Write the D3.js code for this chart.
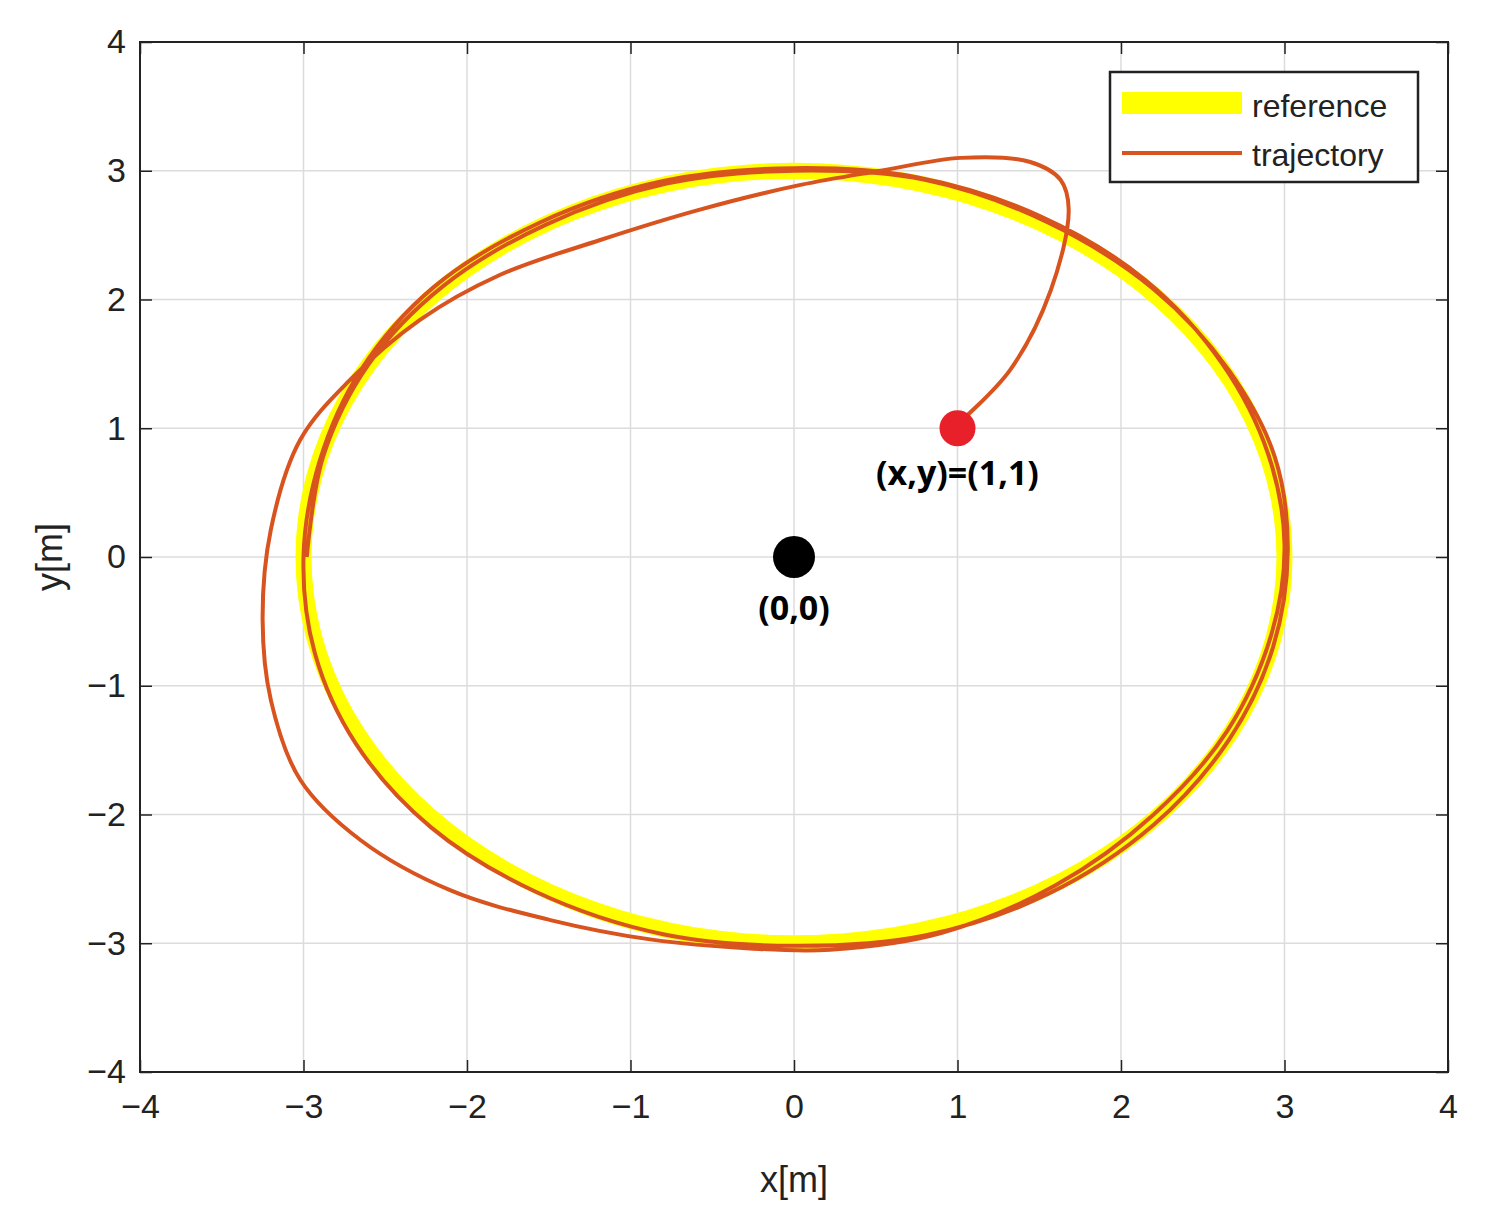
<!DOCTYPE html>
<html><head><meta charset="utf-8">
<script src="https://cdn.jsdelivr.net/npm/d3@7"></script>
<style>body{margin:0;background:#fff}</style></head>
<body><svg id="c" width="1487" height="1230"></svg>
<script>
const xTicks=[-4,-3,-2,-1,0,1,2,3,4];
const yTicks=[-4,-3,-2,-1,0,1,2,3,4];
const refRadius=3;
const refAngles=d3.range(0,361,3);
const trajX=[0.99,1.32,1.57,1.68,1.63,1.44,1.02,0.53,0.04,-0.57,-1.19,-1.80,-2.29,-2.72,-3.02,-3.20,-3.25,-3.20,-3.02,-2.65,-2.10,-1.49,-0.88,-0.27,0.22,0.9,1.6,2.2,2.65,2.92,3.0,2.9,2.62,2.15,1.5,0.75,0,-0.8,-1.55,-2.2,-2.65,-2.9,-3.0,-2.93,-2.68,-2.22,-1.58,-0.8,0,0.8,1.55,2.2,2.66,2.93,3.02,2.94,2.66,2.2,1.55,0.8,0,-0.78,-1.52,-2.15,-2.6,-2.88,-2.98];
const trajY=[1.02,1.45,2.07,2.70,2.93,3.07,3.10,3.0,2.89,2.70,2.46,2.19,1.84,1.37,0.91,0.21,-0.49,-1.11,-1.73,-2.20,-2.59,-2.82,-2.97,-3.04,-3.05,-2.92,-2.55,-2.0,-1.35,-0.6,0.1,0.8,1.5,2.15,2.65,2.95,3.02,2.92,2.6,2.1,1.45,0.75,0,-0.75,-1.45,-2.1,-2.6,-2.93,-3.02,-2.94,-2.62,-2.08,-1.42,-0.7,0.05,0.78,1.45,2.08,2.6,2.93,3.0,2.9,2.58,2.1,1.5,0.78,0];
const svg=d3.select("#c");
const L=140,R=1448,T=42,B=1072;
const x=d3.scaleLinear().domain([-4,4]).range([L,R]);
const y=d3.scaleLinear().domain([-4,4]).range([B,T]);
const g=svg.append("g");
xTicks.forEach(t=>{g.append("line").attr("x1",x(t)).attr("x2",x(t)).attr("y1",T).attr("y2",B).attr("stroke","#dcdcdc").attr("stroke-width",1.5);});
yTicks.forEach(t=>{g.append("line").attr("y1",y(t)).attr("y2",y(t)).attr("x1",L).attr("x2",R).attr("stroke","#dcdcdc").attr("stroke-width",1.5);});
const fmt=d=>d<0?"\u2212"+(-d):""+d;
const ax=d3.axisBottom(x).tickValues(xTicks).tickSize(-12).tickPadding(22).tickFormat(fmt);
const ay=d3.axisLeft(y).tickValues(yTicks).tickSize(-12).tickPadding(14).tickFormat(fmt);
const gx=svg.append("g").attr("transform",`translate(0,${B})`).call(ax);
const gy=svg.append("g").attr("transform",`translate(${L},0)`).call(ay);
svg.append("g").attr("transform",`translate(0,${T})`).call(d3.axisTop(x).tickValues(xTicks).tickSize(-12).tickFormat(""));
svg.append("g").attr("transform",`translate(${R},0)`).call(d3.axisRight(y).tickValues(yTicks).tickSize(-12).tickFormat(""));
svg.selectAll(".domain").remove();
svg.selectAll(".tick line").attr("stroke","#222").attr("stroke-width",1.5);
svg.selectAll(".tick text").attr("font-family","Liberation Sans, Arial").attr("font-size",34).attr("fill","#222");
svg.append("rect").attr("x",L).attr("y",T).attr("width",R-L).attr("height",B-T).attr("fill","none").attr("stroke","#222").attr("stroke-width",2);
const line=d3.line().x(d=>x(d[0])).y(d=>y(d[1]));
const refPts=refAngles.map(a=>[refRadius*Math.cos(a*Math.PI/180),refRadius*Math.sin(a*Math.PI/180)]);
svg.append("path").attr("d",line(refPts)).attr("fill","none").attr("stroke","#ffff00").attr("stroke-width",16);
svg.append("path").attr("d",line.curve(d3.curveCatmullRom)(trajX.map((v,i)=>[v,trajY[i]]))).attr("fill","none").attr("stroke","#d9531e").attr("stroke-width",4);
svg.append("circle").attr("cx",x(1)).attr("cy",y(1)).attr("r",18).attr("fill","#e8202a");
svg.append("circle").attr("cx",x(0)).attr("cy",y(0)).attr("r",21).attr("fill","#000");
svg.append("text").attr("x",x(1)).attr("y",y(1)+57).attr("text-anchor","middle").attr("font-family","Open Sans").attr("font-weight","bold").attr("font-size",34).text("(x,y)=(1,1)");
svg.append("text").attr("x",x(0)).attr("y",y(0)+63).attr("text-anchor","middle").attr("font-family","Open Sans").attr("font-weight","bold").attr("font-size",34).text("(0,0)");
svg.append("text").attr("x",794).attr("y",1192).attr("text-anchor","middle").attr("font-family","Liberation Sans, Arial").attr("font-size",36).attr("fill","#222").text("x[m]");
svg.append("text").attr("transform","translate(62,557) rotate(-90)").attr("text-anchor","middle").attr("font-family","Liberation Sans, Arial").attr("font-size",36).attr("fill","#222").text("y[m]");
const lg=svg.append("g");
lg.append("rect").attr("x",1110).attr("y",72).attr("width",308).attr("height",110).attr("fill","#fff").attr("stroke","#222").attr("stroke-width",2.5);
lg.append("line").attr("x1",1122).attr("x2",1242).attr("y1",103).attr("y2",103).attr("stroke","#ffff00").attr("stroke-width",22);
lg.append("line").attr("x1",1122).attr("x2",1242).attr("y1",153).attr("y2",153).attr("stroke","#d9531e").attr("stroke-width",4);
lg.append("text").attr("x",1252).attr("y",117).attr("font-family","Liberation Sans, Arial").attr("font-size",32).attr("fill","#222").text("reference");
lg.append("text").attr("x",1252).attr("y",166).attr("font-family","Liberation Sans, Arial").attr("font-size",32).attr("fill","#222").text("trajectory");
</script></body></html>
